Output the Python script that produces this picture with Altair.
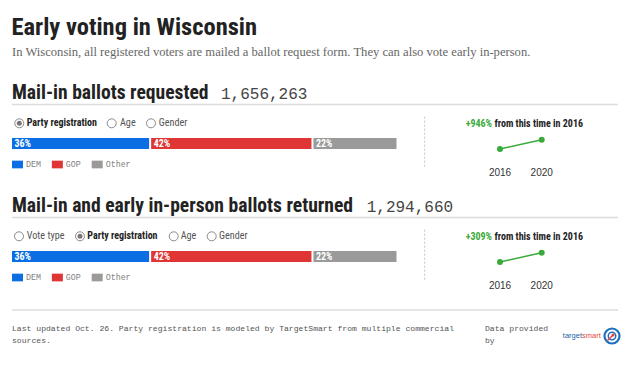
import altair as alt
import pandas as pd

# ---------------- data ----------------
TITLE = "Early voting in Wisconsin"
SUBTITLE = ("In Wisconsin, all registered voters are mailed a ballot request form. "
            "They can also vote early in-person.")
SECTION_TITLES = ["Mail-in ballots requested", "Mail-in and early in-person ballots returned"]
SECTION_TOTALS = [1656263, 1294660]
RADIO_OPTIONS = [["Party registration", "Age", "Gender"],
                 ["Vote type", "Party registration", "Age", "Gender"]]
SELECTED = "Party registration"
PARTIES = ["DEM", "GOP", "Other"]
SHARES_REQUESTED = [36, 42, 22]
SHARES_RETURNED = [36, 42, 22]
YEARS = [2016, 2020]
REQUESTED_BY_YEAR = [158343, 1656263]
RETURNED_BY_YEAR = [316543, 1294660]
CHANGE_LABELS = ["+946%", "+309%"]
CHANGE_SUFFIX = "from this time in 2016"
FOOTNOTE = ["Last updated Oct. 26. Party registration is modeled by TargetSmart from multiple commercial",
            "sources."]
CREDIT = ["Data provided", "by"]
LOGO_WORDS = ["target", "smart"]

# ---------------- styles / layout ----------------
HEAD = "Liberation Sans Narrow, Roboto Condensed, Arial Narrow, sans-serif"
SANS = "Liberation Sans, Arial, sans-serif"
SERIF = "Liberation Serif, Georgia, serif"
MONO = "Liberation Mono, DejaVu Sans Mono, monospace"
PARTY_COLORS = ["#0b6fe3", "#e03535", "#9a9a9a"]
GREEN = "#3aaa3a"
SECTION_OFFSET = 113
RADIO_CIRCLE_X = [[11.3, 103.7, 143.0], [11.0, 72.0, 165.7, 203.7]]
RADIO_TEXT_X = [[18.7, 112.0, 150.7], [18.7, 79.3, 172.7, 211.0]]
TOTAL_X = [213, 358.7]

layers = []


def one():
    return pd.DataFrame({"k": [0]})


def label(txt, x, y, align="left", baseline="alphabetic", **style):
    return alt.Chart(pd.DataFrame({"t": [txt]})).mark_text(
        align=align, baseline=baseline, **style
    ).encode(x=alt.value(x), y=alt.value(y), text="t:N")


def hrule(x1, x2, y, color="#dcdcdc", width=1.5, dash=None):
    kw = dict(color=color, strokeWidth=width)
    if dash:
        kw["strokeDash"] = dash
    return alt.Chart(one()).mark_rule(**kw).encode(
        x=alt.value(x1), x2=alt.value(x2), y=alt.value(y))


def vrule(x, y1, y2, color="#bbbbbb", width=1, dash=None):
    kw = dict(color=color, strokeWidth=width)
    if dash:
        kw["strokeDash"] = dash
    return alt.Chart(one()).mark_rule(**kw).encode(
        x=alt.value(x), y=alt.value(y1), y2=alt.value(y2))


# header
layers.append(label(TITLE, 3.5, 27, font=HEAD, fontSize=24.5, fontWeight="bold", color="#222222"))
layers.append(label(SUBTITLE, 4, 48, font=SERIF, fontSize=12.6, color="#666666"))

party_scale = alt.Scale(domain=PARTIES, range=PARTY_COLORS)
bar_x = alt.Scale(domain=[0, 100], range=[4, 390.5])
legend_x = alt.Scale(domain=PARTIES, type="point", range=[9.5, 89.2], padding=0)

for i in range(2):
    off = SECTION_OFFSET * i
    shares = [SHARES_REQUESTED, SHARES_RETURNED][i]
    by_year = [REQUESTED_BY_YEAR, RETURNED_BY_YEAR][i]

    # section title and total
    layers.append(label(SECTION_TITLES[i], 4, 91 + off, font=HEAD, fontSize=19.6,
                        fontWeight="bold", color="#222222"))
    layers.append(label(f"{SECTION_TOTALS[i]:,}", TOTAL_X[i], 91 + off, font=MONO,
                        fontSize=16, color="#444444"))
    layers.append(hrule(4, 610, 96.5 + off))

    # radio buttons
    rd = pd.DataFrame({"opt": RADIO_OPTIONS[i], "cx": RADIO_CIRCLE_X[i], "tx": RADIO_TEXT_X[i]})
    rd["sel"] = rd["opt"] == SELECTED
    ry = 115.3 + off
    layers.append(alt.Chart(rd).mark_point(shape="circle", filled=False, size=81,
                                           color="#8a8a8a", strokeWidth=1, opacity=1).encode(
        x=alt.X("cx:Q", scale=None), y=alt.value(ry)))
    layers.append(alt.Chart(rd[rd.sel]).mark_point(shape="circle", filled=True, size=25,
                                                   color="#777777", opacity=1).encode(
        x=alt.X("cx:Q", scale=None), y=alt.value(ry)))
    layers.append(alt.Chart(rd[rd.sel]).mark_text(align="left", baseline="middle", font=HEAD,
                                                  fontSize=10, fontWeight="bold",
                                                  color="#222222").encode(
        x=alt.X("tx:Q", scale=None), y=alt.value(ry), text="opt:N"))
    layers.append(alt.Chart(rd[~rd.sel]).mark_text(align="left", baseline="middle", font=HEAD,
                                                   fontSize=10.2, color="#555555").encode(
        x=alt.X("tx:Q", scale=None), y=alt.value(ry), text="opt:N"))

    # stacked bar
    bd = pd.DataFrame({"party": PARTIES, "share": shares})
    bd["end"] = bd["share"].cumsum()
    bd["start"] = bd["end"] - bd["share"]
    bd["lbl"] = bd["share"].astype(str) + "%"
    by0 = 130 + off
    layers.append(alt.Chart(bd).mark_bar(x2Offset=-2).encode(
        x=alt.X("start:Q", scale=bar_x, axis=None), x2="end:Q",
        y=alt.value(by0), y2=alt.value(by0 + 11),
        color=alt.Color("party:N", scale=party_scale, legend=None)))
    layers.append(alt.Chart(bd).mark_text(align="left", baseline="middle", dx=2.5, font=HEAD,
                                          fontSize=10, fontWeight="bold", color="white").encode(
        x=alt.X("start:Q", scale=bar_x, axis=None), y=alt.value(by0 + 5.5), text="lbl:N"))

    # legend
    ld = pd.DataFrame({"party": PARTIES})
    ly = 156.5 + off
    layers.append(alt.Chart(ld).mark_point(shape="M-1,-0.7H1V0.7H-1Z", filled=True, size=121,
                                           opacity=1).encode(
        x=alt.X("party:N", scale=legend_x, axis=None), y=alt.value(ly),
        color=alt.Color("party:N", scale=party_scale, legend=None)))
    layers.append(alt.Chart(ld).mark_text(align="left", baseline="middle", dx=8.5, font=MONO,
                                          fontSize=8.3, color="#808080").encode(
        x=alt.X("party:N", scale=legend_x, axis=None), y=alt.value(ly), text="party:N"))

    # change panel
    layers.append(vrule(416.7, 108.7 + off, 160 + off, color="#c4c4c4", width=1, dash=[2, 2]))
    layers.append(label(CHANGE_LABELS[i], 484, 116.3 + off, align="right", baseline="middle",
                        font=HEAD, fontSize=10, fontWeight="bold", color=GREEN))
    layers.append(label(CHANGE_SUFFIX, 486.5, 116.3 + off, baseline="middle",
                        font=HEAD, fontSize=10, fontWeight="bold", color="#222222"))

    sd = pd.DataFrame({"year": YEARS, "value": by_year})
    sd["ylbl"] = sd["year"].astype(str)
    sx = alt.Scale(domain=YEARS, range=[492, 533.7])
    sy = alt.Scale(domain=[min(by_year), max(by_year)], range=[141 + off, 131.7 + off])
    layers.append(alt.Chart(sd).mark_line(color=GREEN, strokeWidth=1.5).encode(
        x=alt.X("year:Q", scale=sx, axis=None), y=alt.Y("value:Q", scale=sy, axis=None)))
    layers.append(alt.Chart(sd).mark_point(filled=True, size=36, color=GREEN, opacity=1).encode(
        x=alt.X("year:Q", scale=sx, axis=None), y=alt.Y("value:Q", scale=sy, axis=None)))
    layers.append(alt.Chart(sd).mark_text(align="center", baseline="middle", font=SANS,
                                          fontSize=10, color="#333333").encode(
        x=alt.X("year:Q", scale=sx, axis=None), y=alt.value(165.3 + off), text="ylbl:N"))

# footer
layers.append(hrule(4, 610, 302))
layers.append(label(FOOTNOTE[0], 4, 320.7, baseline="middle", font=MONO, fontSize=8.1, color="#555555"))
layers.append(label(FOOTNOTE[1], 4, 333, baseline="middle", font=MONO, fontSize=8.1, color="#555555"))
layers.append(label(CREDIT[0], 477, 320.7, baseline="middle", font=MONO, fontSize=8.1, color="#555555"))
layers.append(label(CREDIT[1], 477, 333, baseline="middle", font=MONO, fontSize=8.1, color="#555555"))
layers.append(label(LOGO_WORDS[0], 574, 328, align="right", baseline="middle", font=SANS,
                    fontSize=7.5, color="#1d5fa8"))
layers.append(label(LOGO_WORDS[1], 574, 328, baseline="middle", font=SANS,
                    fontSize=7.5, color="#e8473d"))
layers.append(alt.Chart(one()).mark_point(shape="circle", filled=False, size=225, color="#1f6fbf",
                                          strokeWidth=2.2, opacity=1).encode(
    x=alt.value(604), y=alt.value(328)))
layers.append(alt.Chart(one()).mark_point(shape="circle", filled=False, size=56, color="#1f6fbf",
                                          strokeWidth=1.5, opacity=1).encode(
    x=alt.value(604), y=alt.value(328)))
layers.append(alt.Chart(one()).mark_rule(color="#e8473d", strokeWidth=1.5).encode(
    x=alt.value(605), y=alt.value(327), x2=alt.value(599.5), y2=alt.value(332.5)))
layers.append(alt.Chart(one()).mark_point(shape="circle", filled=True, size=10, color="#e8473d",
                                          opacity=1).encode(
    x=alt.value(605), y=alt.value(327)))

chart = alt.layer(*layers).resolve_scale(
    x="independent", y="independent", color="independent"
).properties(
    width=624, height=353, padding=0,
    autosize=alt.AutoSizeParams(type="none"),
    background="white",
).configure_view(stroke=None)

chart.save("out.html", embed_options={"renderer": "svg", "actions": False})
